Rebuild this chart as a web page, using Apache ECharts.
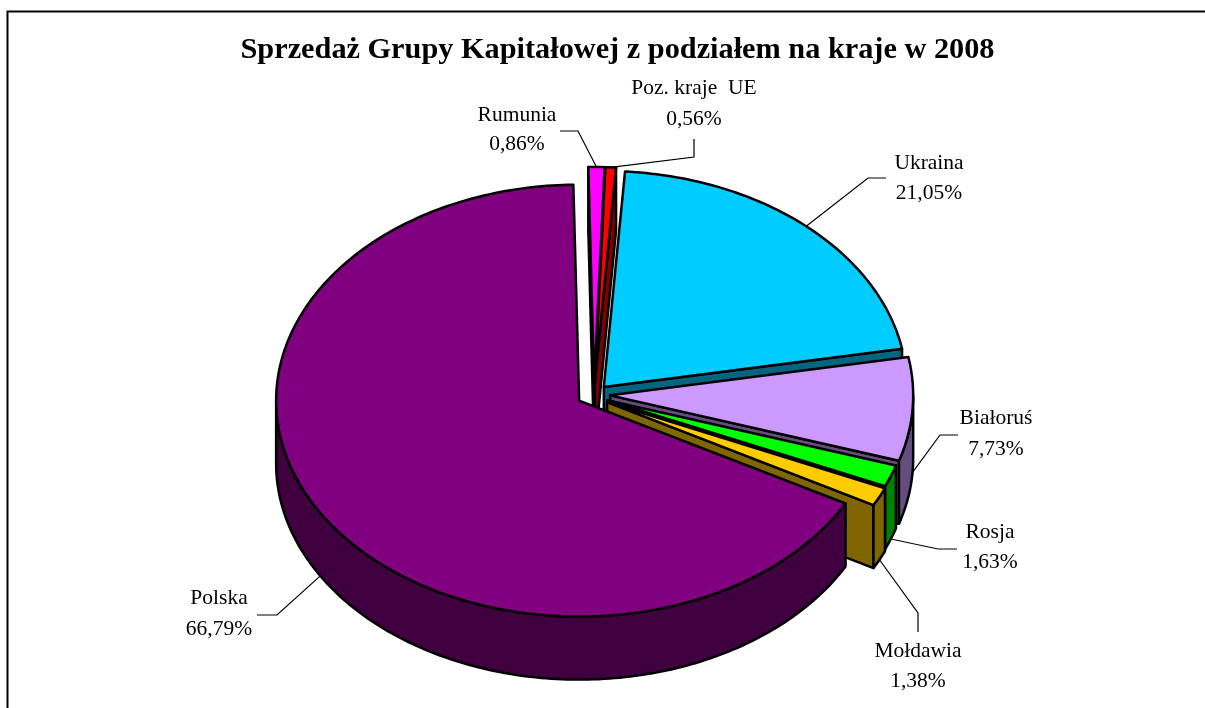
<!DOCTYPE html>
<html>
<head>
<meta charset="utf-8">
<style>
  html, body { margin: 0; padding: 0; background: #fff; }
  #chart-container { width: 1205px; height: 708px; }
</style>
<script src="https://cdn.jsdelivr.net/npm/echarts@6/dist/echarts.min.js"></script>
</head>
<body>
<div id="chart-container"></div>
<script>
// clockwise from the back of the pie, so array order is also painter order
const chartTitle = 'Sprzedaż Grupy Kapitałowej z podziałem na kraje w 2008';
const categories = ['Rumunia', 'Poz. kraje  UE', 'Ukraina', 'Białoruś', 'Rosja', 'Mołdawia', 'Polska'];
const shares = [0.86, 0.56, 21.05, 7.73, 1.63, 1.38, 66.79];
const topColors = ['#ff00ff', '#ff0000', '#00ccff', '#cc99ff', '#00ff00', '#ffcc00', '#800080'];
const sideColors = ['#800080', '#800000', '#006680', '#664d80', '#008000', '#806600', '#400040'];

// label layout: text centre x, first/second line y, then leader bend and end
const labelX = [517, 694, 929, 996, 990, 918, 219];
const labelY = [[115, 144], [88, 119], [163, 193], [418, 449], [532, 562], [651, 681], [598, 629]];
const leaders = [
  [[578, 131], [560, 131]],
  [[694, 157], [694, 139]],
  [[868, 178], [886, 178]],
  [[940, 435], [958, 435]],
  [[938, 549], [957, 549]],
  [[918, 613], [918, 632]],
  [[277, 615], [257, 615]]
];

// pie geometry
const cx = 594, cy = 394.6, rx = 303, ry = 216, depth = 63;
const explode = 0.0535;
const startAngle = -1.1;
// the original's 3D projection is not quite a clean ellipse, small per slice shift
const nudge = [[0, 0], [0, 0], [-1, 1], [0, 0], [-2, 1.5], [-1.5, 2.5], [-1, 0]];

const total = shares.reduce((a, b) => a + b, 0);
const rad = (d) => d * Math.PI / 180;

function arcPoints(ox, oy, a0, a1, dy) {
  const pts = [];
  const n = Math.max(2, Math.ceil(Math.abs(a1 - a0)));
  for (let i = 0; i <= n; i++) {
    const a = rad(a0 + (a1 - a0) * i / n);
    pts.push([ox + rx * Math.sin(a), oy - ry * Math.cos(a) + dy]);
  }
  return pts;
}

function renderSlice(params, api) {
  const i = params.dataIndex;
  const val = api.value(0);
  let before = 0;
  for (let k = 0; k < i; k++) before += shares[k];
  const a0 = startAngle + before / total * 360;
  const a1 = a0 + val / total * 360;
  const mid = rad((a0 + a1) / 2);
  const ox = cx + explode * rx * Math.sin(mid) + nudge[i][0];
  const oy = cy - explode * ry * Math.cos(mid) + nudge[i][1];
  const edge = { stroke: '#000', lineWidth: 2.5, lineJoin: 'round' };
  const children = [];

  function face(a) {
    const t = arcPoints(ox, oy, a, a, 0)[0];
    children.push({
      type: 'polygon',
      shape: { points: [[ox, oy], t, [t[0], t[1] + depth], [ox, oy + depth]] },
      style: Object.assign({ fill: sideColors[i] }, edge)
    });
  }
  // only the cut faces turned towards the viewer are drawn
  if (Math.sin(rad(a0)) < 0) face(a0);
  if (Math.sin(rad(a1)) > 0) face(a1);

  const w0 = Math.max(a0, 90), w1 = Math.min(a1, 270);
  if (w1 > w0) {
    children.push({
      type: 'polygon',
      shape: { points: arcPoints(ox, oy, w0, w1, 0).concat(arcPoints(ox, oy, w1, w0, depth)) },
      style: Object.assign({ fill: sideColors[i] }, edge)
    });
  }

  children.push({
    type: 'polygon',
    shape: { points: [[ox, oy]].concat(arcPoints(ox, oy, a0, a1, 0)) },
    style: Object.assign({ fill: topColors[i] }, edge)
  });

  // leader starts on the rim, or under the wall on the front half
  const onWall = Math.cos(mid) < 0 || Math.sin(mid) > 0.99;
  const from = [ox + rx * Math.sin(mid), oy - ry * Math.cos(mid) + (onWall ? depth : 0)];
  children.push({
    type: 'polyline',
    z2: 10,
    shape: { points: [from].concat(leaders[i]) },
    style: { stroke: '#000', lineWidth: 1.2, fill: null }
  });

  const lines = [categories[i], val.toFixed(2).replace('.', ',') + '%'];
  lines.forEach((txt, k) => {
    children.push({
      type: 'text',
      z2: 10,
      style: {
        text: txt,
        x: labelX[i],
        y: labelY[i][k],
        align: 'center',
        verticalAlign: 'middle',
        fill: '#000',
        font: '21.5px "Liberation Serif"'
      }
    });
  });

  return { type: 'group', children: children };
}

const chartDom = document.getElementById('chart-container');
const myChart = echarts.init(chartDom, null, { renderer: 'canvas' });

myChart.setOption({
  animation: false,
  backgroundColor: '#fff',
  title: {
    text: chartTitle,
    left: 612.5,
    top: 30,
    textAlign: 'center',
    textStyle: {
      fontFamily: 'Liberation Serif',
      fontWeight: 'bold',
      fontSize: 30.3,
      color: '#000'
    }
  },
  graphic: [
    {
      type: 'polyline',
      silent: true,
      shape: { points: [[7.5, 708], [7.5, 11.5], [1205, 11.5]] },
      style: { stroke: '#000', lineWidth: 2, fill: null }
    }
  ],
  series: [{
    type: 'custom',
    coordinateSystem: 'none',
    renderItem: renderSlice,
    silent: true,
    data: shares.map((v, i) => ({ name: categories[i], value: [v] }))
  }]
});
</script>
</body>
</html>
